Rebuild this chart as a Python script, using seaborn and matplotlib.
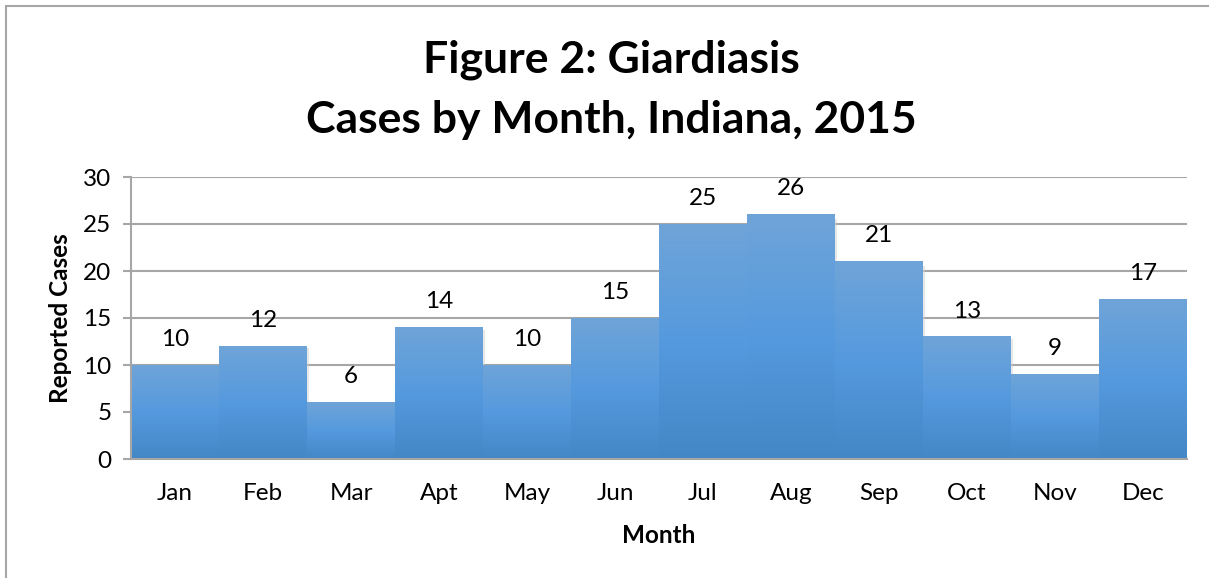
import matplotlib
matplotlib.use("Agg")
import matplotlib.pyplot as plt
import numpy as np
import pandas as pd
import seaborn as sns
from matplotlib.colors import LinearSegmentedColormap
from matplotlib.patches import Rectangle

months = ["Jan", "Feb", "Mar", "Apt", "May", "Jun", "Jul", "Aug", "Sep", "Oct", "Nov", "Dec"]
cases = [10, 12, 6, 14, 10, 15, 25, 26, 21, 13, 9, 17]
y_ticks = [0, 5, 10, 15, 20, 25, 30]

df = pd.DataFrame({"Month": months, "Cases": cases})

sns.set_style("white")
plt.rcParams["font.family"] = ["Lato", "DejaVu Sans"]
plt.rcParams["text.color"] = "black"
plt.rcParams["axes.labelcolor"] = "black"
plt.rcParams["xtick.color"] = "black"
plt.rcParams["ytick.color"] = "black"

fig = plt.figure(figsize=(12.09, 5.78), dpi=100)
ax = fig.add_axes([131 / 1209, 1 - 459 / 578, (1187 - 131) / 1209, (459 - 177) / 578])

sns.barplot(data=df, x="Month", y="Cases", color="#5499dc", width=1.0, ax=ax,
            saturation=1, linewidth=0, zorder=2)

# vertical gradient on each bar, light at top, darker at bottom
grad = LinearSegmentedColormap.from_list("bar", ["#4487c6", "#559ade", "#6fa4d8"])
g = np.linspace(0, 1, 256).reshape(-1, 1)
for p in ax.patches:
    x0, w, h = p.get_x(), p.get_width(), p.get_height()
    ax.imshow(g, extent=[x0, x0 + w, 0, h], origin="lower", aspect="auto",
              cmap=grad, zorder=3)
    # faint shadow on the right side
    ax.add_patch(Rectangle((x0 + w, 0), 0.025, h * 0.98, color="#d0d0d0", alpha=0.5,
                           zorder=2.5, linewidth=0))
    p.set_visible(False)

for i, v in enumerate(cases):
    ax.annotate(str(v), (i, v), xytext=(0, 11), textcoords="offset points",
                ha="center", va="bottom", fontsize=17.5, color="black", zorder=4)

ax.set_xlim(-0.5, len(months) - 0.5)
ax.set_ylim(0, 30)
ax.set_yticks(y_ticks)
ax.yaxis.grid(True, color="#a6a6a6", linewidth=1.5, zorder=1)
ax.set_axisbelow(True)
for s in ["top", "right"]:
    ax.spines[s].set_visible(False)
for s in ["left", "bottom"]:
    ax.spines[s].set_color("#a6a6a6")
    ax.spines[s].set_linewidth(1.5)
    ax.spines[s].set_zorder(5)
ax.tick_params(axis="y", left=True, length=6, width=1.5, color="#a6a6a6",
               labelsize=17.5, pad=8)
ax.tick_params(axis="x", bottom=False, labelsize=17.5, pad=14)

ax.set_xlabel("Month", fontsize=17.5, fontweight="bold", labelpad=14)
ax.set_ylabel("Reported Cases", fontsize=17.5, fontweight="bold", labelpad=8)

fig.text(0.506, 1 - 60 / 578, "Figure 2: Giardiasis", ha="center", va="center",
         fontsize=32, fontweight="bold")
fig.text(0.506, 1 - 120 / 578, "Cases by Month, Indiana, 2015", ha="center", va="center",
         fontsize=32, fontweight="bold")

fig.patches.append(Rectangle((5.5 / 1209, -0.1), 1.2, 1 + 0.1 - 6 / 578,
                             transform=fig.transFigure, fill=False,
                             edgecolor="#a6a6a6", linewidth=1.5))

fig.savefig("out.png", dpi=100)
